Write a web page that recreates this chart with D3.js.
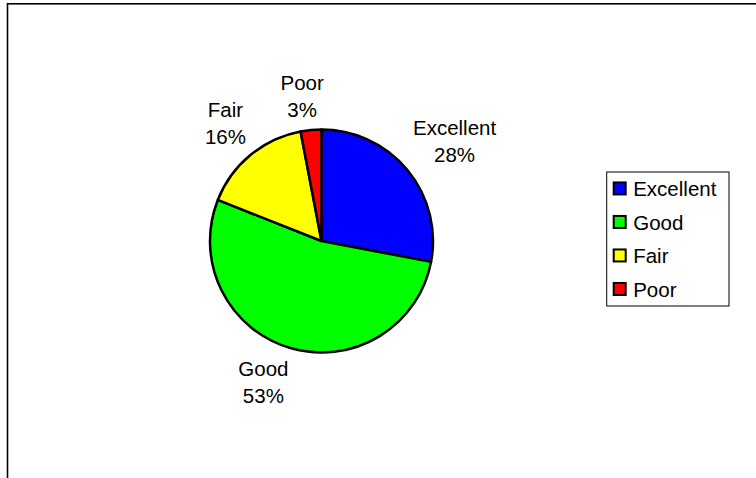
<!DOCTYPE html>
<html>
<head>
<meta charset="utf-8">
<script src="https://cdn.jsdelivr.net/npm/d3@7"></script>
<style>
  body { margin: 0; background: #fff; }
  svg { display: block; }
  text { font-family: "Liberation Sans", Arial, sans-serif; font-size: 20.5px; fill: #000; }
</style>
</head>
<body>
<div class="pieChart"></div>
<script>
const categories = ['Excellent', 'Good', 'Fair', 'Poor'];
const values = [28, 53, 16, 3];
const colors = ['#0000ff', '#00ff00', '#ffff00', '#ff0000'];

const width = 756;
const height = 478;
const cx = 321.5, cy = 241, radius = 111.5;
const lineH = 27;

const svg = d3.select('.pieChart')
    .append('svg')
    .attr('width', width)
    .attr('height', height);

// outer chart frame (runs off the right and bottom edge)
svg.append('rect')
    .attr('x', 7.5)
    .attr('y', 3.8)
    .attr('width', 800)
    .attr('height', 520)
    .attr('fill', 'none')
    .attr('stroke', '#000')
    .attr('stroke-width', 1.6);

const data = categories.map((c, i) => ({ name: c, value: values[i], color: colors[i] }));
const total = d3.sum(values);

const pie = d3.pie().sort(null).value(d => d.value);
const arc = d3.arc().innerRadius(0).outerRadius(radius);
const arcs = pie(data);

const g = svg.append('g')
    .attr('transform', `translate(${cx},${cy})`);

g.selectAll('.slice')
    .data(arcs)
    .enter()
    .append('path')
    .attr('class', 'slice')
    .attr('d', arc)
    .attr('fill', d => d.data.color)
    .attr('stroke', '#000')
    .attr('stroke-width', 2.5)
    .attr('stroke-linejoin', 'round');

// data labels: anchored just outside the rim, box pushed away from the pie
const anchorR = radius + 7;
const labels = g.selectAll('.label')
    .data(arcs)
    .enter()
    .append('text')
    .attr('class', 'label')
    .attr('text-anchor', 'middle');

labels.append('tspan').attr('x', 0).attr('dy', 0).text(d => d.data.name);
labels.append('tspan').attr('x', 0).attr('dy', lineH)
    .text(d => Math.round(d.data.value / total * 100) + '%');

labels.each(function (d) {
    const a = (d.startAngle + d.endAngle) / 2;
    const s = Math.sin(a), c = Math.cos(a);
    const w = this.getBBox().width;
    const h = lineH * 2;
    const ax = anchorR * s, ay = -anchorR * c;
    const clamp = v => Math.max(-1, Math.min(1, v));
    const mx = ax + clamp(s * 4) * w / 2;
    const my = ay + clamp(-c * 1.4) * h / 2;
    // first baseline sits ~ a quarter line above the box center
    d3.select(this).attr('transform', `translate(${mx},${my - lineH / 2 + 7.5})`);
});

// legend
const legX = 606.7, legY = 172, legW = 122.3, rowH = 33.5;
const legend = svg.append('g');
legend.append('rect')
    .attr('x', legX)
    .attr('y', legY)
    .attr('width', legW)
    .attr('height', rowH * categories.length)
    .attr('fill', '#fff')
    .attr('stroke', '#000')
    .attr('stroke-width', 1);

const rows = legend.selectAll('.row')
    .data(data)
    .enter()
    .append('g')
    .attr('class', 'row')
    .attr('transform', (d, i) => `translate(${legX}, ${legY + rowH * (i + 0.5)})`);

rows.append('rect')
    .attr('x', 7)
    .attr('y', -6.3)
    .attr('width', 12)
    .attr('height', 12)
    .attr('fill', d => d.color)
    .attr('stroke', '#000')
    .attr('stroke-width', 2);

rows.append('text')
    .attr('x', 26.5)
    .attr('y', 7.3)
    .text(d => d.name);
</script>
</body>
</html>
